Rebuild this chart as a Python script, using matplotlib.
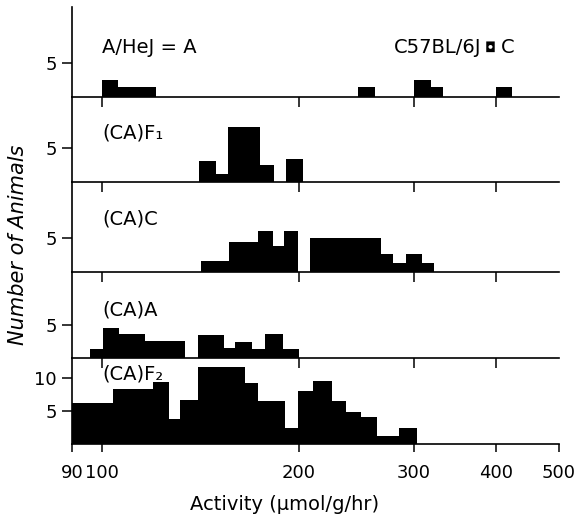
import matplotlib
matplotlib.use("Agg")
import matplotlib.pyplot as plt
from matplotlib.ticker import FixedLocator, NullLocator, FixedFormatter

# bin edges (activity, umol/g/hr) and heights (number of animals) per panel
parent_edges = [100, 106, 121, 246.6, 262, 300, 318.6, 332.6, 400, 423]
parent_counts = [2.4, 1.4, 0, 1.4, 0, 2.4, 1.4, 0, 1.4]

f1_edges = [140.9, 149.3, 155.7, 174.7, 183.5, 191.4, 202.8]
f1_counts = [3.1, 1.25, 8.0, 2.5, 0, 3.4]

cac_edges = [141.7, 156.6, 173.1, 182.8, 190.1, 199.7, 208.1, 266.9, 279, 291.7, 308.3, 322.3]
cac_counts = [1.5, 4.4, 6.0, 3.7, 5.9, 0, 4.9, 2.6, 1.3, 2.6, 1.3]

caa_edges = [95.9, 100.5, 106.3, 116.4, 134, 140.1, 153.9, 159.8, 169.4, 177.6, 189, 200.2]
caa_counts = [1.3, 4.5, 3.6, 2.5, 0, 3.5, 1.5, 2.35, 1.3, 3.6, 1.3]

f2_edges = [88, 103.9, 119.8, 126.8, 131.6, 140.4, 165.5, 173.4, 190.7, 199.7,
            210.5, 224.6, 236.2, 248.7, 263.2, 284.9, 302.9]
f2_counts = [6.2, 8.3, 9.4, 3.9, 6.7, 11.7, 9.2, 6.5, 2.5, 8, 9.6, 6.5, 4.9, 4.2, 1.3, 2.4]

x_ticks = [90, 100, 200, 300, 400, 500]
inner_ticks = [100, 200, 300, 400]

W, H = 578, 527
fig = plt.figure(figsize=(W / 100, H / 100), dpi=100)

left_px, right_px = 72, 559
# (top px, bottom px, ylim top, yticks, data, label, label y-fraction)
panels = [
    (7, 96.7, 13.2, [5], parent_edges, parent_counts, "A/HeJ = A", 0.55),
    (96.7, 182.3, 12.4, [5], f1_edges, f1_counts, "(CA)F₁", 0.58),
    (182.3, 271.7, 13.1, [5], cac_edges, cac_counts, "(CA)C", 0.59),
    (271.7, 357.7, 13.2, [5], caa_edges, caa_counts, "(CA)A", 0.56),
    (357.7, 444.3, 13.1, [5, 10], f2_edges, f2_counts, "(CA)F₂", 0.81),
]

fs = 13
lfs = 14
for i, (top, bot, ytop, yt, edges, counts, label, ly) in enumerate(panels):
    ax = fig.add_axes([left_px / W, 1 - bot / H, (right_px - left_px) / W, (bot - top) / H])
    ax.patch.set_visible(False)
    ax.stairs(counts, edges, fill=True, color="black", baseline=0)
    ax.set_xscale("log")
    ax.set_xlim(90, 500)
    ax.set_ylim(0, ytop)
    for s in ["top", "right"]:
        ax.spines[s].set_visible(False)
    for s in ["left", "bottom"]:
        ax.spines[s].set_linewidth(1.2)
    ax.yaxis.set_major_locator(FixedLocator(yt))
    ax.yaxis.set_minor_locator(NullLocator())
    ax.tick_params(axis="y", direction="out", length=7, width=1.1, labelsize=fs, pad=4)
    ax.xaxis.set_minor_locator(NullLocator())
    if i < 4:
        ax.xaxis.set_major_locator(FixedLocator(inner_ticks))
        ax.tick_params(axis="x", direction="out", length=7, width=1.1, labelbottom=False)
    else:
        ax.xaxis.set_major_locator(FixedLocator(x_ticks))
        ax.xaxis.set_major_formatter(FixedFormatter([str(t) for t in x_ticks]))
        ax.tick_params(axis="x", direction="out", length=6, width=1.1, labelsize=fs, pad=8)
    ax.text(100, ly, label, transform=ax.get_xaxis_transform(), fontsize=lfs,
            va="center", ha="left")
    if i == 0:
        tr = ax.get_xaxis_transform()
        ax.text(381, ly, "C57BL/6J", transform=tr, fontsize=lfs, va="center", ha="right")
        ax.text(393, ly, "◘", transform=tr, fontsize=10, va="center", ha="center")
        ax.text(408, ly, "C", transform=tr, fontsize=lfs, va="center", ha="left")

fig.text(18 / W, 1 - 245 / H, "Number of Animals", rotation=90, fontsize=15,
         style="italic", ha="center", va="center")
fig.text(285 / W, 1 - 505 / H, "Activity (μmol/g/hr)", fontsize=14,
         ha="center", va="center")

fig.savefig("out.png", dpi=100)
